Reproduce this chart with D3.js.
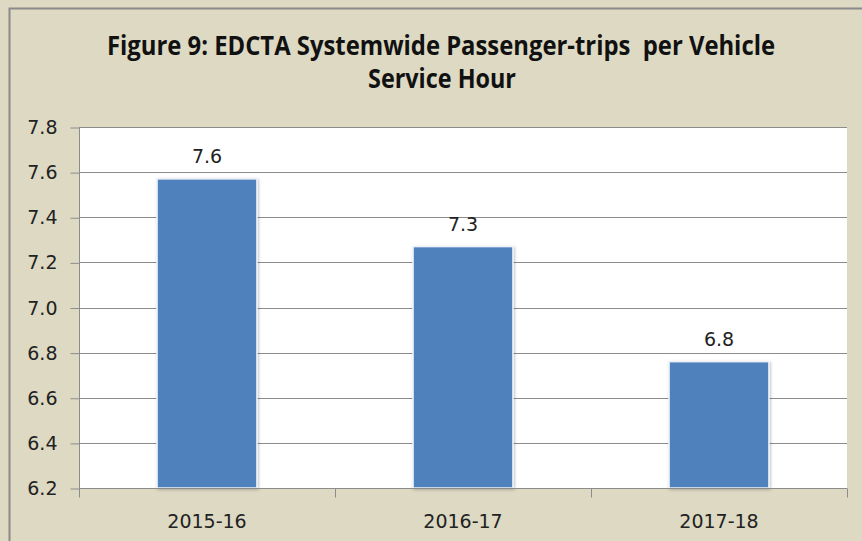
<!DOCTYPE html>
<html>
<head>
<meta charset="utf-8">
<script src="https://cdn.jsdelivr.net/npm/d3@7"></script>
<style>
  body { margin: 0; background: #ddd9c3; }
  svg { display: block; }
</style>
</head>
<body>
<svg id="chart"></svg>
<script>
var years = ["2015-16", "2016-17", "2017-18"];
var tripsPerHour = [7.57, 7.27, 6.76];
var barLabels = ["7.6", "7.3", "6.8"];
var yTicks = [6.2, 6.4, 6.6, 6.8, 7.0, 7.2, 7.4, 7.6, 7.8];
var titleLines = ["Figure 9: EDCTA Systemwide Passenger-trips  per Vehicle", "Service Hour"];

var width = 862, height = 541;
var svg = d3.select("#chart").attr("width", width).attr("height", height);

// outer frame
svg.append("rect").attr("x", 0).attr("y", 0).attr("width", width).attr("height", height).attr("fill", "#ddd9c3");
svg.append("path")
  .attr("d", "M9.5," + height + "V8.5H" + width)
  .attr("fill", "none").attr("stroke", "#8a8a8a").attr("stroke-width", 2);

var defs = svg.append("defs");
var f = defs.append("filter").attr("id", "shadow").attr("x", "-10%").attr("y", "-10%").attr("width", "120%").attr("height", "120%");
f.append("feDropShadow").attr("dx", 1).attr("dy", 1).attr("stdDeviation", 1.5).attr("flood-color", "#000").attr("flood-opacity", 0.25);

// title
var title = svg.append("g").attr("font-family", "'Open Sans', sans-serif").attr("font-weight", "bold").attr("fill", "#111");
title.append("text").attr("x", 441).attr("y", 55).attr("text-anchor", "middle")
  .attr("xml:space", "preserve").style("white-space", "pre")
  .attr("font-size", 26).attr("textLength", 668).attr("lengthAdjust", "spacingAndGlyphs")
  .text(titleLines[0]);
title.append("text").attr("x", 442).attr("y", 88).attr("text-anchor", "middle")
  .attr("font-size", 26).attr("textLength", 148).attr("lengthAdjust", "spacingAndGlyphs")
  .text(titleLines[1]);

var plotL = 79, plotR = 847, plotT = 127, plotB = 488;

var x = d3.scaleBand().domain(years).range([plotL, plotR]).paddingInner(0.61).paddingOuter(0.305);
var xb = d3.scaleBand().domain(years).range([plotL, plotR]);
var y = d3.scaleLinear().domain([6.2, 7.8]).range([plotB, plotT]);

// plot area
svg.append("rect").attr("x", plotL).attr("y", plotT).attr("width", plotR - plotL).attr("height", plotB - plotT).attr("fill", "#fff");

// gridlines
svg.append("g").selectAll("line").data(yTicks.slice(1)).enter().append("line")
  .attr("x1", plotL).attr("x2", plotR)
  .attr("y1", function(d) { return Math.round(y(d)) + 0.5; })
  .attr("y2", function(d) { return Math.round(y(d)) + 0.5; })
  .attr("stroke", "#8c8c8c").attr("stroke-width", 1);

// y axis
var yAxis = d3.axisLeft(y).tickValues(yTicks).tickFormat(d3.format(".1f")).tickSize(9).tickPadding(13);
var gy = svg.append("g").attr("transform", "translate(" + (plotL + 0.5) + ",0.5)").call(yAxis);
gy.select(".domain").attr("stroke", "#8c8c8c").attr("d", "M0," + plotT + "V" + plotB);
gy.selectAll(".tick line").attr("stroke", "#8c8c8c");
gy.selectAll(".tick text").attr("font-family", "'DejaVu Sans', sans-serif").attr("font-size", 19).attr("fill", "#222");

// bars
svg.append("g").selectAll("rect").data(tripsPerHour).enter().append("rect")
  .attr("x", function(d, i) { return x(years[i]); })
  .attr("y", function(d) { return y(d); })
  .attr("width", x.bandwidth())
  .attr("height", function(d) { return plotB - y(d); })
  .attr("fill", "#4f81bd").attr("stroke", "#eef2f8").attr("stroke-width", 1.5)
  .attr("filter", "url(#shadow)");

// value labels
svg.append("g").selectAll("text").data(tripsPerHour).enter().append("text")
  .attr("x", function(d, i) { return x(years[i]) + x.bandwidth() / 2; })
  .attr("y", function(d) { return y(d) - 16; })
  .attr("text-anchor", "middle")
  .attr("font-family", "'DejaVu Sans', sans-serif").attr("font-size", 19).attr("fill", "#222")
  .text(function(d, i) { return barLabels[i]; });

// x axis
var gx = svg.append("g").attr("transform", "translate(0," + (plotB + 0.5) + ")");
gx.append("line").attr("x1", plotL).attr("x2", plotR).attr("stroke", "#8c8c8c");
gx.selectAll(".xt").data(years.concat(["end"])).enter().append("line")
  .attr("x1", function(d, i) { return Math.round(i < years.length ? xb(d) : plotR) + 0.5; })
  .attr("x2", function(d, i) { return Math.round(i < years.length ? xb(d) : plotR) + 0.5; })
  .attr("y1", 0).attr("y2", 9).attr("stroke", "#8c8c8c");
gx.selectAll("text").data(years).enter().append("text")
  .attr("x", function(d) { return x(d) + x.bandwidth() / 2; })
  .attr("y", 39)
  .attr("text-anchor", "middle")
  .attr("font-family", "'DejaVu Sans', sans-serif").attr("font-size", 19).attr("fill", "#222")
  .text(function(d) { return d; });
</script>
</body>
</html>
